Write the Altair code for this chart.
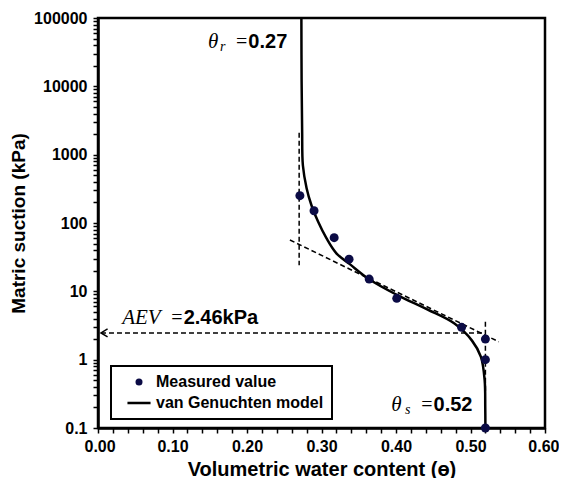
import altair as alt
import pandas as pd

# ---------------- data ----------------
series_names = ["Measured value", "van Genuchten model"]

theta_measured = [0.271, 0.290, 0.317, 0.337, 0.364, 0.401, 0.488, 0.520, 0.520, 0.520]
suction_measured = [251, 151, 61, 29.6, 15.1, 7.9, 2.97, 2.0, 1.0, 0.1]

theta_model = [0.273, 0.2733, 0.274, 0.275, 0.280, 0.2865, 0.2955, 0.3066, 0.320,
               0.338, 0.364, 0.401, 0.4425, 0.478, 0.502, 0.514, 0.519, 0.5198, 0.520]
suction_model = [100000, 12000, 2300, 700, 323, 182, 104, 60, 36,
                 25, 15, 8.9, 5.4, 3.4, 1.9, 1.1, 0.5, 0.2, 0.1]

# construction (dashed) lines: start and end points
guide_theta = [0.27, 0.2576, 0.520, 0.004]
guide_suction = [2100, 56.4, 3.6, 2.46]
guide_theta2 = [0.27, 0.538, 0.520, 0.520]
guide_suction2 = [24, 1.83, 0.35, 2.46]

# annotations
ann_symbol = ["θ", "AEV", "θ"]
ann_sub = ["r", "", "s"]
ann_value = ["0.27", "2.46kPa", "0.52"]
ann_theta = [0.2005, 0.1136, 0.449]
ann_suction = [45000, 4.03, 0.217]

x_major_ticks = [0.0, 0.1, 0.2, 0.3, 0.4, 0.5, 0.6]
y_major_ticks = [0.1, 1, 10, 100, 1000, 10000, 100000]

# ---------------- layout helpers ----------------
x_tick_values = [round(i * 0.02, 2) for i in range(31)]
y_tick_values = sorted({float(f"{k * d:.6g}") for d in y_major_ticks[:-1] for k in range(1, 10)} | {100000.0})

SANS = "Liberation Sans"
SERIF = "Liberation Serif"

x_scale = alt.Scale(domain=[0, 0.6], nice=False, zero=False)
y_scale = alt.Scale(type="log", domain=[0.1, 100000], nice=False)

axis_common = dict(
    grid=False, domainColor="black", domainWidth=2.5, tickColor="black", tickWidth=1.5,
    tickSize=5, labelColor="black", titleColor="black", labelFont=SANS, titleFont=SANS,
    labelFontWeight="bold", titleFontWeight="bold", labelFontSize=16, labelOverlap=False,
)

X = alt.X("theta:Q", scale=x_scale, axis=alt.Axis(
    values=x_tick_values,
    labelExpr="abs(datum.value*10 - round(datum.value*10)) < 1e-6 ? format(datum.value, '.2f') : ''",
    title="Volumetric water content (ɵ)", labelPadding=5, titlePadding=5, titleFontSize=20,
    labelFlush=True, labelFlushOffset=14,
    **axis_common))
Y = alt.Y("suction:Q", scale=y_scale, axis=alt.Axis(
    values=y_tick_values,
    labelExpr="abs(log(datum.value)/log(10) - round(log(datum.value)/log(10))) < 1e-6 ? "
              "(datum.value < 1 ? format(datum.value, '.1f') : format(datum.value, 'd')) : ''",
    title="Matric suction (kPa)", labelPadding=6, titlePadding=5, titleFontSize=19,
    labelFlush=False,
    **axis_common))

df_meas = pd.DataFrame({"theta": theta_measured, "suction": suction_measured,
                        "series": series_names[0]})
df_model = pd.DataFrame({"theta": theta_model, "suction": suction_model,
                         "idx": list(range(len(theta_model)))})
df_guides = pd.DataFrame({"theta": guide_theta, "suction": guide_suction,
                          "theta2": guide_theta2, "suction2": guide_suction2})
df_arrow = pd.DataFrame({"theta": [guide_theta[3]], "suction": [guide_suction[3]]})

curve = alt.Chart(df_model).mark_line(
    color="black", strokeWidth=2.5, interpolate="catmull-rom"
).encode(x=X, y=Y, order="idx:Q")

guides = alt.Chart(df_guides).mark_rule(
    color="black", strokeWidth=1.5, strokeDash=[5, 3]
).encode(x=X, y=Y, x2="theta2:Q", y2="suction2:Q")

arrow = alt.Chart(df_arrow).mark_point(
    shape="M2.2,-1.33L0,0L2.2,1.33", filled=False, size=36, color="black",
    strokeWidth=1.5, opacity=1
).encode(x=X, y=Y)

legend_spec = alt.Legend(title=None, orient="none", legendX=13, legendY=348, labelLimit=0)
points = alt.Chart(df_meas).mark_point(filled=True, size=81, opacity=1).encode(
    x=X, y=Y,
    color=alt.Color("series:N", scale=alt.Scale(domain=series_names, range=["#0b0b45", "black"]),
                    legend=legend_spec),
    shape=alt.Shape("series:N", scale=alt.Scale(
        domain=series_names,
        range=["circle", "M-3.3,-0.36L3.3,-0.36L3.3,0.36L-3.3,0.36Z"]),
        legend=legend_spec),
)

# annotation layout (pixel offsets from the anchor)
sym_dx = [-29, -22, -31]
sub_dx = [-22, 0, -22]

text_layers = []
for i in range(len(ann_value)):
    d = pd.DataFrame({"theta": [ann_theta[i]], "suction": [ann_suction[i]],
                      "sym": [ann_symbol[i]], "sub": [ann_sub[i]], "val": [ann_value[i]]})
    base = alt.Chart(d)
    text_layers.append(base.mark_text(align="left", baseline="middle", dx=1, font=SANS,
                                      fontWeight="bold", fontSize=20, color="black")
                       .encode(x=X, y=Y, text="val:N"))
    text_layers.append(base.mark_text(align="right", baseline="middle", dx=0, font=SERIF,
                                      fontSize=20, color="black")
                       .encode(x=X, y=Y, text=alt.value("=")))
    text_layers.append(base.mark_text(align="right", baseline="middle", dx=sym_dx[i], font=SERIF,
                                      fontStyle="italic", fontSize=21, color="black")
                       .encode(x=X, y=Y, text="sym:N"))
    if ann_sub[i]:
        text_layers.append(base.mark_text(align="right", baseline="middle", dx=sub_dx[i], dy=5,
                                          font=SERIF, fontStyle="italic", fontSize=14,
                                          color="black")
                           .encode(x=X, y=Y, text="sub:N"))

chart = alt.layer(guides, curve, arrow, points, *text_layers).properties(
    width=447, height=410,
    autosize=alt.AutoSizeParams(type="none"),
    padding={"left": 90, "top": 10, "right": 14, "bottom": 50},
).configure_view(
    stroke="black", strokeWidth=2.5
).configure_legend(
    strokeColor="black", strokeWidth=2, padding=8, rowPadding=5,
    labelFont=SANS, labelFontWeight="bold", labelFontSize=16, labelColor="black",
    symbolSize=49, symbolOffset=12, labelOffset=9, symbolStrokeWidth=0, fillColor="white",
)

chart.save("out.html", embed_options={"renderer": "svg", "actions": False})
